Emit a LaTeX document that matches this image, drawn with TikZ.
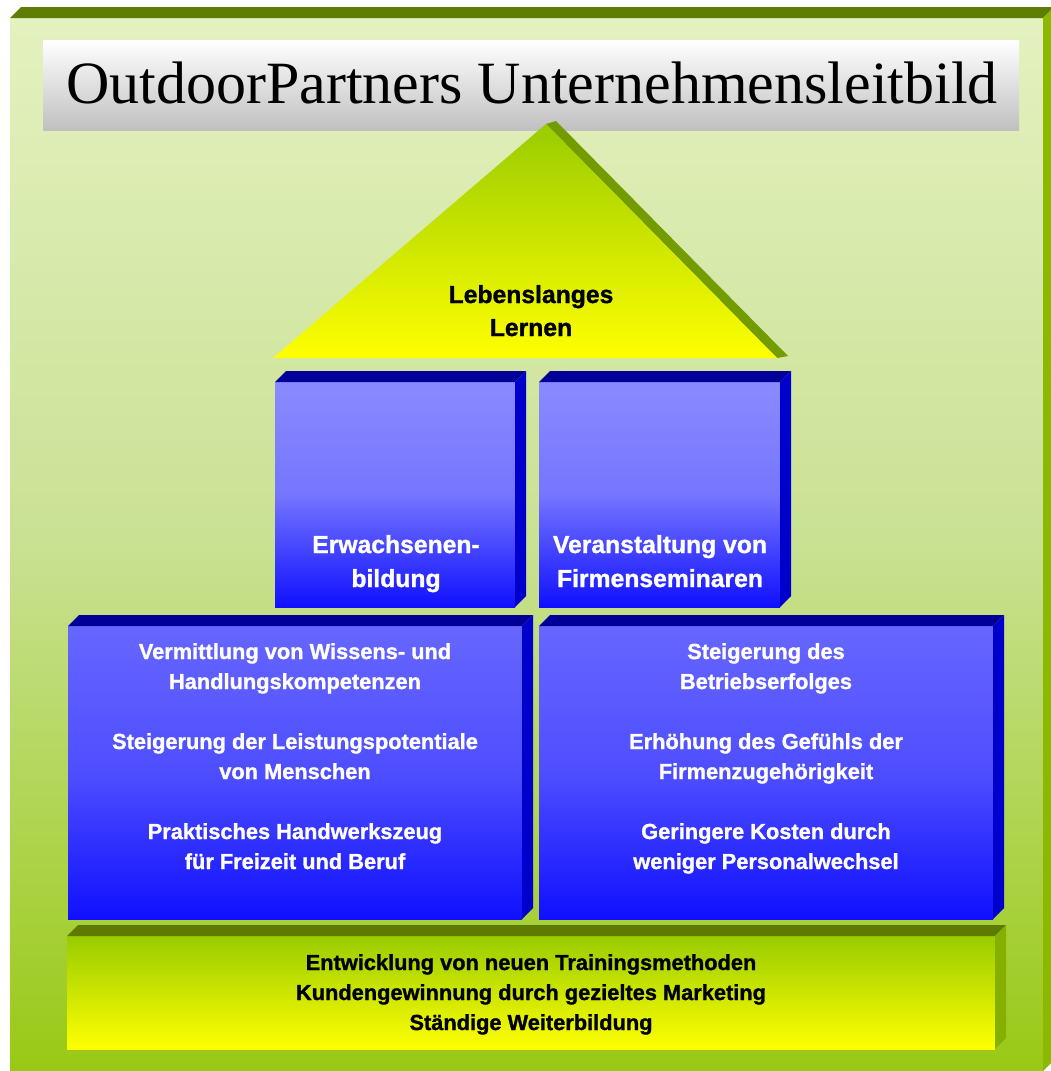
\documentclass[tikz,border=0pt]{standalone}
\usepackage{fontspec}
\setmainfont{Liberation Serif}
\newfontfamily\lsans{Liberation Sans}[UprightFont=*-Bold, FakeBold=1.2]
\usepackage{graphicx}
\definecolor{frameTop}{HTML}{E4F1C0}
\definecolor{frameMid}{HTML}{C9E193}
\definecolor{frameBot}{HTML}{99C915}
\definecolor{frameLid}{HTML}{5F7D00}
\definecolor{frameSide}{HTML}{8CB800}
\definecolor{titleBot}{HTML}{C0C0C0}
\definecolor{greenTop}{HTML}{99CC00}
\definecolor{yellowBot}{HTML}{FFFF00}
\definecolor{oliveLid}{HTML}{5F7A00}
\definecolor{oliveSide}{HTML}{86B000}
\definecolor{roofEdge}{HTML}{739C00}
\definecolor{blueLid}{HTML}{000099}
\definecolor{blueSide}{HTML}{0000CC}
\definecolor{upTop}{HTML}{8A8AFF}
\definecolor{upMid}{HTML}{7575FF}
\definecolor{loTop}{HTML}{6666FF}
\definecolor{loMid}{HTML}{4E4EFF}
\definecolor{blueBot}{HTML}{1010FF}
\newcommand\drawextrusion[5]{%
  \fill[#4] (#1.north west) -- ++(#2,#3) -- ([shift={(#2,#3)}]#1.north east) -- (#1.north east) -- cycle;
  \fill[#5] (#1.north east) -- ++(#2,#3) -- ([shift={(#2,#3)}]#1.south east) -- (#1.south east) -- cycle;}
\begin{document}
\begin{tikzpicture}[x=1pt,y=-1pt,
  face/.style={inner sep=0pt, outer sep=0pt, draw=none},
  upbox/.style={face, minimum width=240pt, minimum height=225pt, top color=upTop, bottom color=blueBot, middle color=upMid},
  lowbox/.style={face, minimum width=454pt, minimum height=293pt, top color=loTop, bottom color=blueBot, middle color=loMid},
  wtext/.style={anchor=base, align=center, inner sep=0pt, text=white, font=\lsans\fontsize{24.7}{34}\selectfont},
  ltext/.style={anchor=base, align=center, inner sep=0pt, text=white, font=\lsans\fontsize{21.8}{30}\selectfont},
  btext/.style={anchor=base, align=center, inner sep=0pt, text=black, font=\lsans\fontsize{21.8}{30}\selectfont}]
\useasboundingbox (0,0) rectangle (1051,1071);
\fill[white] (0,0) rectangle (1051,1071);
% outer frame
\node[face, minimum width=1033pt, minimum height=1053pt, top color=frameTop, bottom color=frameBot, middle color=frameMid] (frame) at (526.5,544.5) {};
\drawextrusion{frame}{11}{-11}{frameLid}{frameSide}
% title
\node[face, minimum width=976pt, minimum height=90pt, top color=white, bottom color=titleBot] (title) at (531,85) {};
\node[anchor=base, inner sep=0pt, font=\fontsize{60}{60}\selectfont] (titletext) at (532,103) {OutdoorPartners Unternehmensleitbild};
% roof
\coordinate (apex) at (546,124);
\coordinate (roofL) at (273,358);
\coordinate (roofR) at (777,358);
\fill[roofEdge] (apex) -- ++(10,-3) -- ([shift={(11,-2)}]roofR) -- (roofR) -- cycle;
\shade[top color=greenTop, bottom color=yellowBot] (apex) -- (roofL) -- (roofR) -- cycle;
\node[anchor=base, align=center, inner sep=0pt, font=\lsans\fontsize{24.7}{33}\selectfont] (rooftext) at (531,336) {Lebenslanges\\Lernen};
% upper boxes
\node[upbox] (erw) at (395,494.5) {};
\drawextrusion{erw}{11}{-11}{blueLid}{blueSide}
\node[wtext] (erwtext) at (396,587) {Erwachsenen-\\bildung};
\node[upbox, minimum width=241pt] (ver) at (659.5,494.5) {};
\drawextrusion{ver}{11}{-11}{blueLid}{blueSide}
\node[wtext] (vertext) at (660,587) {Veranstaltung von\\Firmenseminaren};
% lower boxes
\node[lowbox] (left) at (295,772.5) {};
\drawextrusion{left}{11}{-11}{blueLid}{blueSide}
\node[ltext] (lefttext) at (295,869) {Vermittlung von Wissens- und\\Handlungskompetenzen\\[30pt]Steigerung der Leistungspotentiale\\von Menschen\\[30pt]Praktisches Handwerkszeug\\für Freizeit und Beruf};
\node[lowbox] (right) at (766,772.5) {};
\drawextrusion{right}{11}{-11}{blueLid}{blueSide}
\node[ltext] (righttext) at (766,869) {Steigerung des\\Betriebserfolges\\[30pt]Erhöhung des Gefühls der\\Firmenzugehörigkeit\\[30pt]Geringere Kosten durch\\weniger Personalwechsel};
% base bar
\node[face, minimum width=928pt, minimum height=113pt, top color=greenTop, bottom color=yellowBot] (bar) at (531,992.5) {};
\drawextrusion{bar}{11}{-11}{oliveLid}{oliveSide}
\node[btext] (bartext) at (531,1030) {Entwicklung von neuen Trainingsmethoden\\Kundengewinnung durch gezieltes Marketing\\Ständige Weiterbildung};
\end{tikzpicture}
\end{document}
